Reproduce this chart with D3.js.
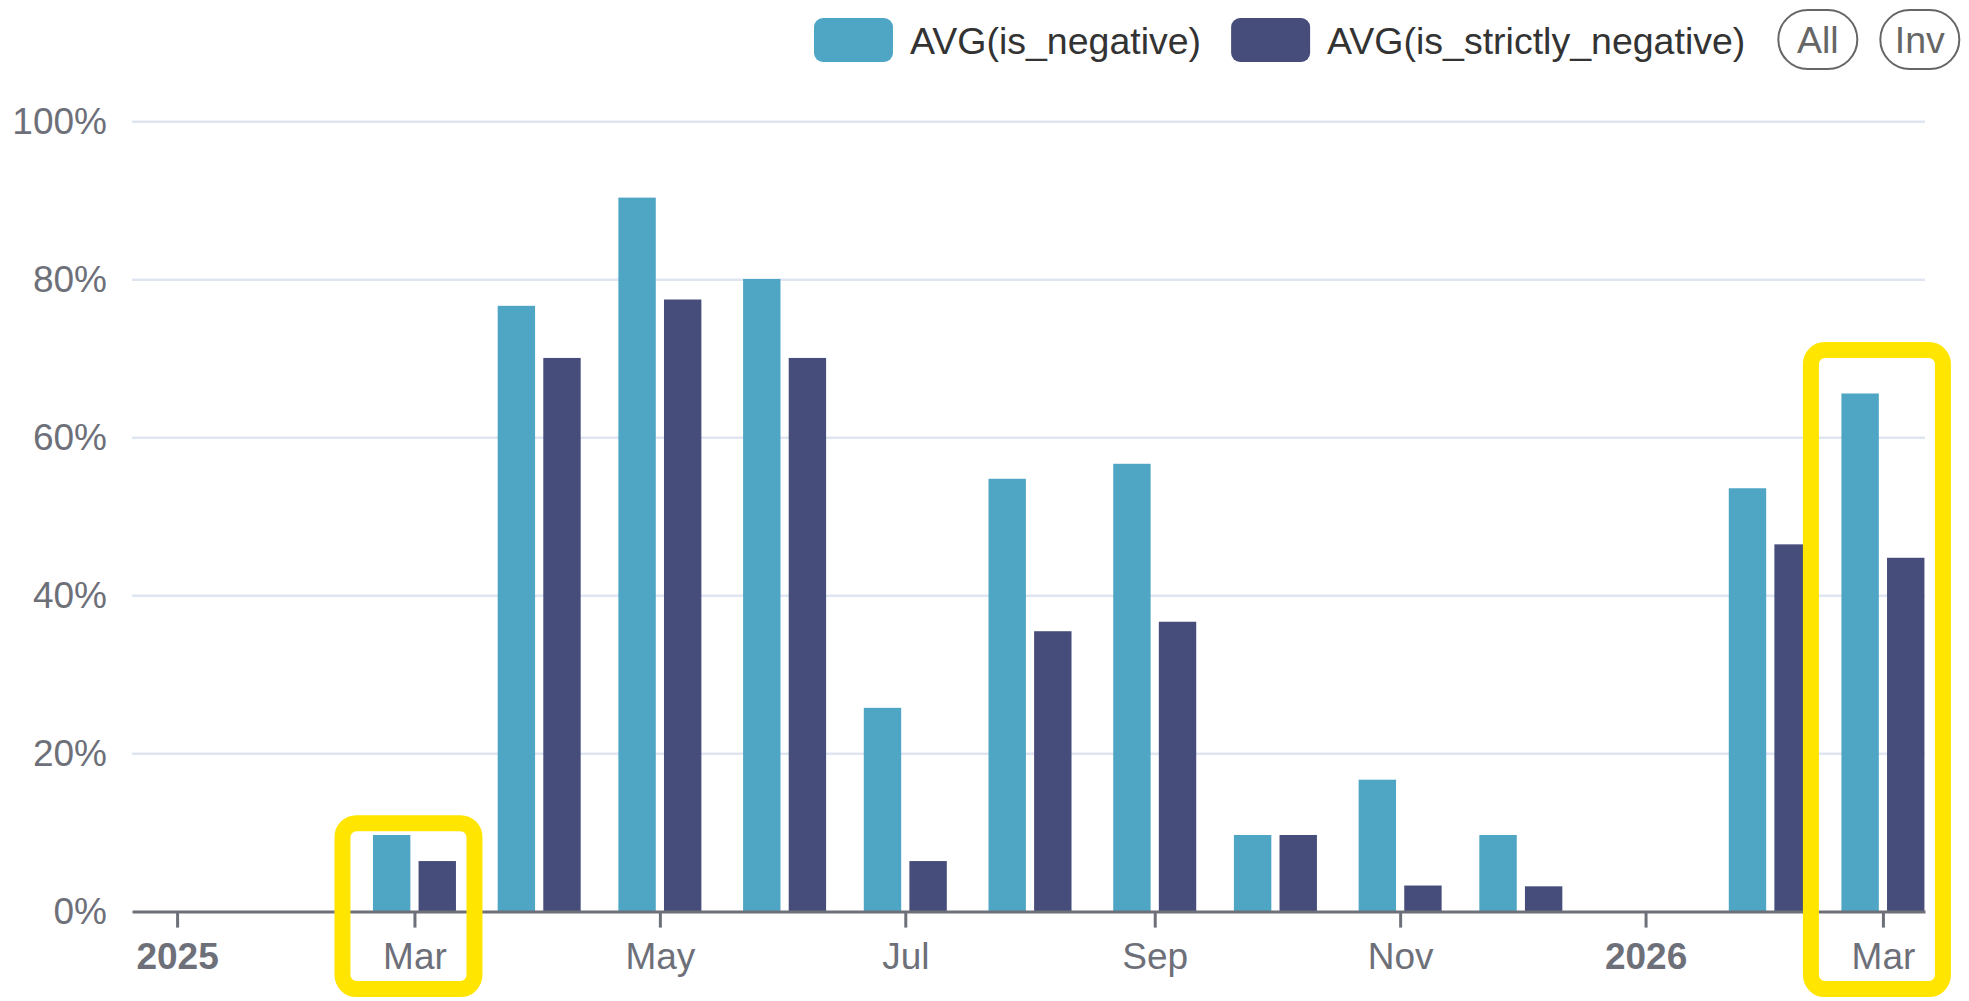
<!DOCTYPE html>
<html>
<head>
<meta charset="utf-8">
<script src="https://cdn.jsdelivr.net/npm/d3@7"></script>
<style>
  body { margin: 0; background: #fff; }
  svg { display: block; font-family: "Liberation Sans", Arial, sans-serif; }
</style>
</head>
<body>
<div id="chart"></div>
<script>
// monthly buckets, Jan 2026 has no data
const months = ["2025-03", "2025-04", "2025-05", "2025-06", "2025-07", "2025-08", "2025-09",
  "2025-10", "2025-11", "2025-12", "2026-01", "2026-02", "2026-03"];
const isNegative = [9.7, 76.7, 90.4, 80.1, 25.8, 54.8, 56.7, 9.7, 16.7, 9.7, null, 53.6, 65.6];
const isStrictlyNegative = [6.4, 70.1, 77.5, 70.1, 6.4, 35.5, 36.7, 9.7, 3.3, 3.2, null, 46.5, 44.8];
const seriesNames = ["AVG(is_negative)", "AVG(is_strictly_negative)"];
const colors = ["#4ea5c4", "#464d7a"];
const yTicks = [0, 20, 40, 60, 80, 100];
const xDomain = ["2024-12-20T19:00", "2026-03-11T11:00"];
// yellow annotation boxes: month + top value (%)
const highlights = [{ month: "2025-03", top: 11.2 }, { month: "2026-03", top: 71.1 }];

const W = 1969, H = 1001;
const plot = { left: 132, right: 1925, top: 121.8, bottom: 911.6 };

const parseMonth = d3.utcParse("%Y-%m");
const parseT = d3.utcParse("%Y-%m-%dT%H:%M");

const data = months.map((m, i) => ({
  date: parseMonth(m),
  values: [isNegative[i], isStrictlyNegative[i]]
}));

const svg = d3.select("#chart").append("svg")
  .attr("width", W).attr("height", H);

const x = d3.scaleUtc().domain(xDomain.map(parseT)).range([plot.left, plot.right]);
const y = d3.scaleLinear().domain([0, 100]).range([plot.bottom, plot.top]);
const inner = d3.scaleBand().domain([0, 1]).range([-41.5, 41.5]).paddingInner(0.18);

// grid
svg.append("g")
  .selectAll("line")
  .data(yTicks.filter(d => d > 0))
  .join("line")
  .attr("x1", plot.left).attr("x2", plot.right)
  .attr("y1", d => y(d)).attr("y2", d => y(d))
  .attr("stroke", "#e0e6f1").attr("stroke-width", 2.5);

// y axis labels
const yAxis = svg.append("g")
  .attr("transform", `translate(${plot.left},0)`)
  .call(d3.axisLeft(y).tickValues(yTicks).tickFormat(d => d + "%").tickSize(0).tickPadding(25));
yAxis.select(".domain").remove();
yAxis.selectAll("text")
  .attr("font-size", 37).attr("fill", "#6e7079")
  .attr("font-family", "Liberation Sans, Arial, sans-serif");

// bars
const groups = svg.append("g").selectAll("g")
  .data(data)
  .join("g")
  .attr("transform", d => `translate(${x(d.date)},0)`);

groups.selectAll("rect")
  .data(d => d.values.map((v, i) => ({ v, i })).filter(e => e.v != null))
  .join("rect")
  .attr("x", e => inner(e.i))
  .attr("width", inner.bandwidth())
  .attr("y", e => y(e.v))
  .attr("height", e => y(0) - y(e.v))
  .attr("fill", e => colors[e.i]);

// x axis
const xAxis = svg.append("g")
  .attr("transform", `translate(0,${plot.bottom})`)
  .call(d3.axisBottom(x)
    .ticks(d3.utcMonth.every(2))
    .tickFormat(d => d.getUTCMonth() === 0 ? d3.utcFormat("%Y")(d) : d3.utcFormat("%b")(d))
    .tickSize(16).tickSizeOuter(0).tickPadding(15));
xAxis.select(".domain").attr("stroke", "#6e7079").attr("stroke-width", 3);
xAxis.selectAll(".tick line").attr("stroke", "#6e7079").attr("stroke-width", 3);
xAxis.selectAll("text")
  .attr("font-size", 37).attr("fill", "#6e7079")
  .attr("font-family", "Liberation Sans, Arial, sans-serif")
  .attr("font-weight", d => d.getUTCMonth() === 0 ? "bold" : "normal");

// annotation boxes
svg.append("g").selectAll("rect")
  .data(highlights)
  .join("rect")
  .attr("x", d => x(parseMonth(d.month)) - 72)
  .attr("width", 132)
  .attr("y", d => y(d.top))
  .attr("height", d => y(0) + 77.5 - y(d.top))
  .attr("rx", 14)
  .attr("fill", "none")
  .attr("stroke", "#ffe500")
  .attr("stroke-width", 16);

// legend
const legend = svg.append("g").attr("font-size", 37.5);
let lx = 814;
seriesNames.forEach((name, i) => {
  legend.append("rect")
    .attr("x", lx).attr("y", 18).attr("width", 79).attr("height", 44).attr("rx", 9)
    .attr("fill", colors[i]);
  const t = legend.append("text")
    .attr("x", lx + 96).attr("y", 54)
    .attr("fill", "#333")
    .text(name);
  lx += 96 + t.node().getComputedTextLength() + 30;
});
lx += 3;
["All", "Inv"].forEach(label => {
  legend.append("rect")
    .attr("x", lx).attr("y", 10).attr("width", 79).attr("height", 59).attr("rx", 29.5)
    .attr("fill", "#fff").attr("stroke", "#666").attr("stroke-width", 2);
  legend.append("text")
    .attr("x", lx + 39.5).attr("y", 53)
    .attr("text-anchor", "middle")
    .attr("fill", "#666")
    .text(label);
  lx += 102;
});
</script>
</body>
</html>
